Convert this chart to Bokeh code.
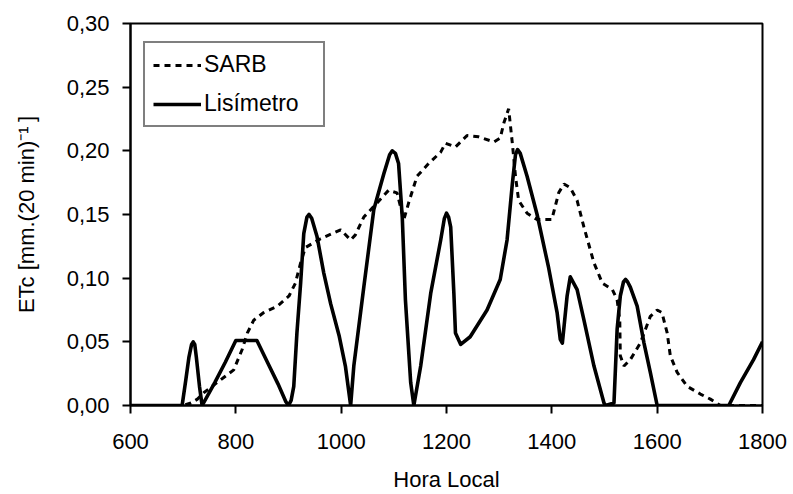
from bokeh.plotting import figure
from bokeh.models import Range1d, FixedTicker, CustomJSTickFormatter, Legend, LegendItem
from bokeh.embed import file_html
from bokeh.resources import INLINE

# ---- data ----
sarb_x = [600, 700, 715, 727, 739, 777, 796, 812, 822, 834, 853, 879, 901, 913, 923, 932, 961, 999,
          1018, 1027, 1043, 1068, 1090, 1106, 1119, 1128, 1144, 1166, 1189, 1198, 1217, 1239, 1261,
          1290, 1302, 1309, 1318, 1325, 1331, 1337, 1353, 1372, 1400, 1413, 1423, 1435, 1448, 1461,
          1480, 1496, 1515, 1524, 1529, 1530, 1537, 1549, 1568, 1587, 1600, 1609, 1619, 1625, 1638,
          1657, 1682, 1701, 1720, 1800]
sarb_y = [0, 0, 0.002, 0.005, 0.010, 0.022, 0.028, 0.044, 0.057, 0.067, 0.073, 0.078, 0.086, 0.096,
          0.112, 0.124, 0.131, 0.138, 0.130, 0.134, 0.148, 0.159, 0.169, 0.167, 0.146, 0.159, 0.180,
          0.190, 0.199, 0.206, 0.203, 0.212, 0.211, 0.207, 0.210, 0.222, 0.233, 0.206, 0.180, 0.161,
          0.151, 0.146, 0.146, 0.167, 0.174, 0.171, 0.161, 0.140, 0.112, 0.096, 0.091, 0.083, 0.067,
          0.039, 0.031, 0.036, 0.049, 0.070, 0.075, 0.073, 0.057, 0.039, 0.026, 0.015, 0.009, 0.005,
          0, 0]

lis_x = [600, 690, 698, 705, 711, 716, 719, 722, 725, 731, 736, 760, 780, 800, 840, 860, 880, 895,
         900, 905, 910, 916, 923, 929, 935, 939, 944, 954, 967, 980, 996, 1008, 1018, 1024, 1043,
         1062, 1081, 1092, 1097, 1103, 1109, 1116, 1122, 1132, 1138, 1151, 1170, 1189, 1196, 1200,
         1204, 1208, 1214, 1217, 1227, 1245, 1277, 1302, 1315, 1325, 1331, 1335, 1340, 1353, 1372,
         1394, 1410, 1416, 1420, 1429, 1435, 1448, 1461, 1480, 1499, 1502, 1518, 1524, 1530, 1536,
         1540, 1544, 1549, 1562, 1575, 1587, 1600, 1736, 1758, 1783, 1800]
lis_y = [0, 0, 0, 0.020, 0.038, 0.048, 0.050, 0.048, 0.038, 0.015, 0, 0.018, 0.034, 0.051, 0.051,
         0.034, 0.017, 0.003, 0, 0.004, 0.015, 0.057, 0.096, 0.135, 0.148, 0.150, 0.147, 0.133,
         0.104, 0.080, 0.055, 0.031, 0, 0.031, 0.093, 0.154, 0.182, 0.197, 0.200, 0.198, 0.190,
         0.148, 0.083, 0.018, 0, 0.031, 0.088, 0.130, 0.147, 0.151, 0.148, 0.140, 0.088, 0.057,
         0.048, 0.054, 0.075, 0.099, 0.130, 0.174, 0.197, 0.201, 0.198, 0.180, 0.150, 0.108, 0.073,
         0.052, 0.049, 0.086, 0.101, 0.091, 0.067, 0.031, 0.002, 0, 0.002, 0.060, 0.086, 0.097,
         0.099, 0.097, 0.093, 0.078, 0.049, 0.026, 0, 0, 0.018, 0.036, 0.050]

x_ticks = [600, 800, 1000, 1200, 1400, 1600, 1800]
y_ticks = [0.0, 0.05, 0.10, 0.15, 0.20, 0.25, 0.30]
y_tick_labels = ["0,00", "0,05", "0,10", "0,15", "0,20", "0,25", "0,30"]

series_names = ["SARB", "Lisímetro"]
x_title = "Hora Local"
y_title = "ETc [mm.(20 min)\u207B\u00B9\u2009]"

FONT = "Liberation Sans"
FS = "22px"

p = figure(width=793, height=494, output_backend="svg", toolbar_location=None,
           x_range=Range1d(600, 1800), y_range=Range1d(0, 0.30),
           min_border_left=130, min_border_right=31, min_border_top=23, min_border_bottom=88)
p.background_fill_color = "white"
p.border_fill_color = "white"
p.outline_line_color = "black"
p.outline_line_width = 2
p.xgrid.visible = False
p.ygrid.visible = False

r_sarb = p.line(sarb_x, sarb_y, line_color="black", line_width=3, line_dash="6 5")
r_lis = p.line(lis_x, lis_y, line_color="black", line_width=3.6, line_join="round")

for ax in (p.xaxis[0], p.yaxis[0]):
    ax.axis_line_color = "black"
    ax.axis_line_width = 2
    ax.major_tick_line_color = "black"
    ax.major_tick_line_width = 2
    ax.major_tick_out = 8
    ax.major_tick_in = 0
    ax.minor_tick_line_color = None
    ax.major_label_text_font = FONT
    ax.major_label_text_font_size = FS
    ax.major_label_text_color = "black"
    ax.axis_label_text_font = FONT
    ax.axis_label_text_font_size = FS
    ax.axis_label_text_font_style = "normal"
    ax.axis_label_text_color = "black"

p.xaxis.ticker = FixedTicker(ticks=x_ticks)
p.yaxis.ticker = FixedTicker(ticks=y_ticks)
p.yaxis.formatter = CustomJSTickFormatter(
    args=dict(tvals=y_ticks, tlabs=y_tick_labels),
    code="const i = tvals.findIndex(t => Math.abs(t - tick) < 1e-9); return i >= 0 ? tlabs[i] : '';")
p.xaxis.axis_label = x_title
p.yaxis.axis_label = y_title
p.xaxis.major_label_standoff = 20
p.yaxis.major_label_standoff = 13
p.xaxis.axis_label_standoff = 15
p.yaxis.axis_label_standoff = 25

legend = Legend(items=[LegendItem(label=series_names[0], renderers=[r_sarb]),
                       LegendItem(label=series_names[1], renderers=[r_lis])],
                location=(13, 278))
legend.label_text_font = FONT
legend.label_text_font_size = "23px"
legend.label_text_color = "black"
legend.label_height = 26
legend.glyph_height = 26
legend.glyph_width = 48
legend.label_width = 111
legend.label_standoff = 3
legend.spacing = 12
legend.padding = 8
legend.margin = 0
legend.border_line_color = "black"
legend.border_line_width = 2
legend.background_fill_color = "white"
legend.background_fill_alpha = 1.0
p.add_layout(legend, "center")

open("out.html", "w").write(file_html(p, INLINE))
